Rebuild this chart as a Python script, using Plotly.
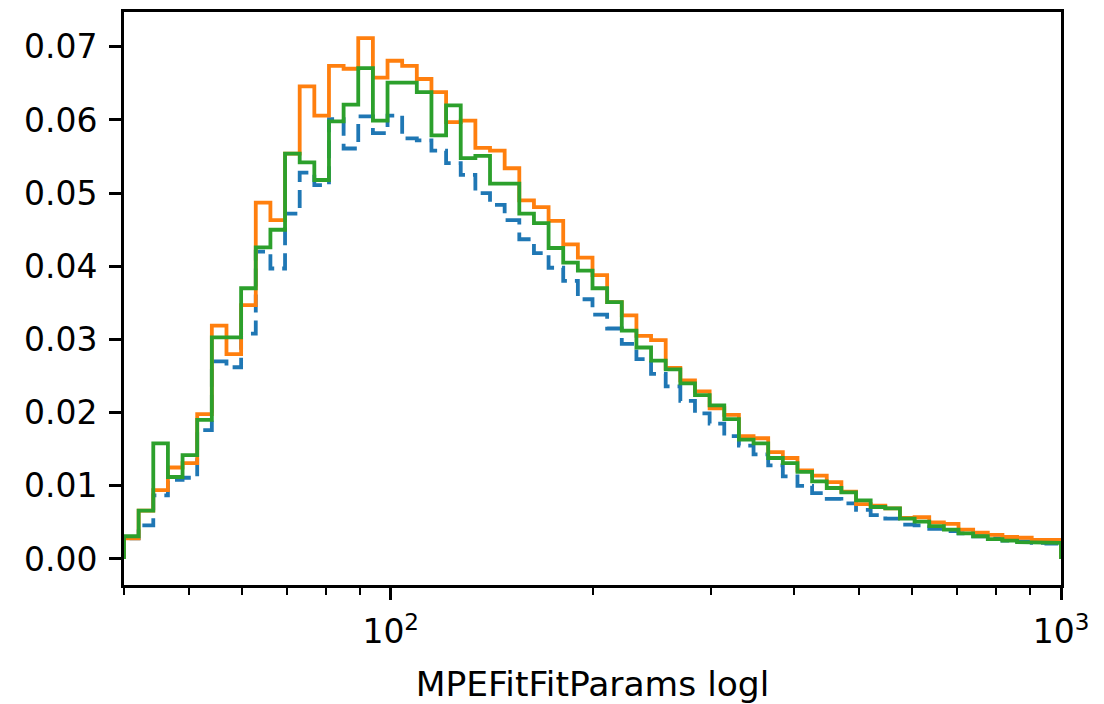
import numpy as np
import plotly.graph_objects as go

# ---- data ----
x_min = 40.0
x_max = 1000.0
n_bins = 64

blue = [0.0028, 0.0046, 0.0087, 0.0108, 0.0111, 0.0176, 0.0270, 0.0262, 0.0308, 0.0420, 0.0397,
        0.0472, 0.0528, 0.0511, 0.0601, 0.0561, 0.0605, 0.0582, 0.0606, 0.0575, 0.0572,
        0.0558, 0.0541, 0.0525, 0.0500, 0.0484, 0.0463, 0.0437, 0.0418, 0.0398, 0.0380,
        0.0355, 0.0334, 0.0315, 0.0294, 0.0273, 0.0253, 0.0236, 0.0216, 0.0199, 0.0185,
        0.0168, 0.0155, 0.0143, 0.0128, 0.0113, 0.0100, 0.0090, 0.0082, 0.0076, 0.0067,
        0.0060, 0.0055, 0.0047, 0.0046, 0.0041, 0.0038, 0.0035, 0.0031, 0.0028, 0.0025,
        0.0024, 0.0022, 0.0021]

orange = [0.0028, 0.0066, 0.0094, 0.0125, 0.0131, 0.0198, 0.0319, 0.0280, 0.0347, 0.0487, 0.0463,
          0.0554, 0.0646, 0.0606, 0.0674, 0.0670, 0.0712, 0.0658, 0.0681, 0.0674, 0.0656,
          0.0638, 0.0597, 0.0599, 0.0562, 0.0558, 0.0534, 0.0490, 0.0481, 0.0462, 0.0430,
          0.0412, 0.0388, 0.0351, 0.0333, 0.0305, 0.0299, 0.0261, 0.0244, 0.0229, 0.0206,
          0.0197, 0.0168, 0.0165, 0.0146, 0.0138, 0.0121, 0.0114, 0.0105, 0.0092, 0.0075,
          0.0073, 0.0069, 0.0056, 0.0057, 0.0050, 0.0048, 0.0040, 0.0036, 0.0033, 0.0030,
          0.0029, 0.0026, 0.0026]

green = [0.0031, 0.0066, 0.0158, 0.0112, 0.0142, 0.0190, 0.0303, 0.0303, 0.0370, 0.0426, 0.0450,
         0.0554, 0.0542, 0.0518, 0.0598, 0.0621, 0.0671, 0.0599, 0.0651, 0.0651, 0.0638,
         0.0579, 0.0620, 0.0548, 0.0551, 0.0513, 0.0513, 0.0472, 0.0459, 0.0425, 0.0405,
         0.0394, 0.0370, 0.0351, 0.0312, 0.0289, 0.0271, 0.0259, 0.0240, 0.0224, 0.0210,
         0.0191, 0.0163, 0.0158, 0.0138, 0.0131, 0.0119, 0.0106, 0.0097, 0.0091, 0.0080,
         0.0071, 0.0069, 0.0055, 0.0051, 0.0045, 0.0040, 0.0035, 0.0031, 0.0027, 0.0025,
         0.0023, 0.0022, 0.0022]

y_tickvals = [0.00, 0.01, 0.02, 0.03, 0.04, 0.05, 0.06, 0.07]
x_major = [100, 1000]
x_major_text = ["10<sup>2</sup>", "10<sup>3</sup>"]
x_minor = [40, 50, 60, 70, 80, 90, 200, 300, 400, 500, 600, 700, 800, 900]
x_label = "MPEFitFitParams logl"

# ---- build ----
edges = np.logspace(np.log10(x_min), np.log10(x_max), n_bins + 1)


def step_xy(vals):
    v = np.asarray(vals, dtype=float)
    xs = np.repeat(edges, 2)
    ys = np.concatenate([[0.0], np.repeat(v, 2), [0.0]])
    return xs, ys


FONT = "DejaVu Sans"
FS = 33

fig = go.Figure()
series = [
    (blue, "#1f77b4", "18px,8px"),
    (orange, "#ff7f0e", "solid"),
    (green, "#2ca02c", "solid"),
]
for vals, col, dash in series:
    xs, ys = step_xy(vals)
    fig.add_trace(go.Scatter(x=xs, y=ys, mode="lines",
                             line=dict(color=col, width=3.8, dash=dash),
                             showlegend=False, hoverinfo="skip"))

ymax = max(max(blue), max(orange), max(green))
pad = 0.05 * ymax

fig.update_layout(
    width=1104, height=704,
    margin=dict(l=124, r=43, t=12, b=119, autoexpand=False),
    paper_bgcolor="white", plot_bgcolor="white",
    font=dict(family=FONT, size=FS, color="black"),
    xaxis=dict(
        type="log",
        range=[np.log10(x_min), np.log10(x_max)],
        tickmode="array", tickvals=x_major, ticktext=x_major_text,
        ticks="outside", ticklen=12, tickwidth=2.6, tickcolor="black",
        minor=dict(tickmode="array", tickvals=x_minor, ticks="outside",
                   ticklen=7, tickwidth=2, tickcolor="black", showgrid=False),
        showline=True, linecolor="black", linewidth=2.6, mirror=True,
        showgrid=False, zeroline=False,
        title=dict(text=x_label, font=dict(family=FONT, size=34.5), standoff=26),
        tickfont=dict(family=FONT, size=FS),
        ticklabelstandoff=4,
    ),
    yaxis=dict(
        range=[-pad, ymax + pad],
        tickmode="array", tickvals=y_tickvals, tickformat=".2f",
        ticks="outside", ticklen=12, tickwidth=2.6, tickcolor="black",
        showline=True, linecolor="black", linewidth=2.6, mirror=True,
        showgrid=False, zeroline=False,
        tickfont=dict(family=FONT, size=FS),
        ticklabelstandoff=5,
    ),
)

fig.write_html("out.html", config={"displayModeBar": False},
               post_script="document.body.style.margin='0';")
